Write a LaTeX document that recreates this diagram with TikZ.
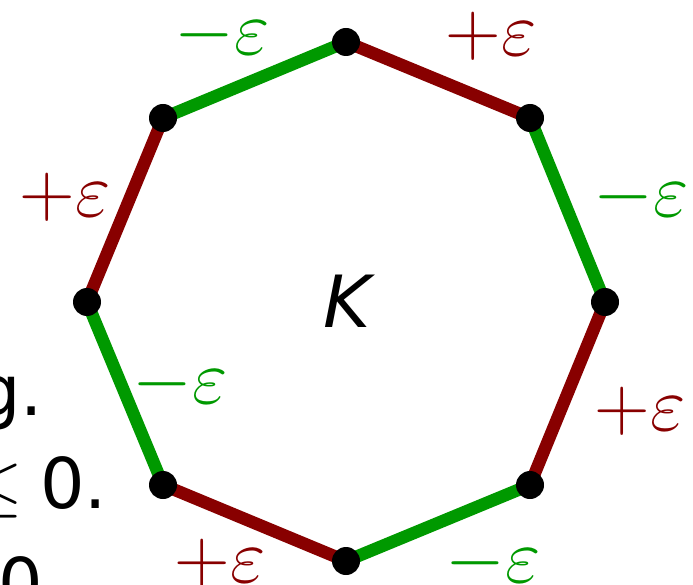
\documentclass[tikz,border=0pt]{standalone}
\usepackage{fix-cm}
\usepackage{fontspec}
\setmainfont{DejaVu Sans}
\definecolor{eg}{RGB}{0,153,0}
\definecolor{er}{RGB}{136,0,0}
\begin{document}
\begin{tikzpicture}[x=1pt,y=-1pt,
  edge/.style={line width=12.5pt},
  vtx/.style={circle,fill=black,inner sep=0pt,minimum size=28pt},
  lbl/.style={inner sep=0pt,font=\fontsize{77}{90}\selectfont},
  frag/.style={inner sep=0pt,anchor=base east,font=\fontsize{70}{84}\selectfont}]
\useasboundingbox (0,0) rectangle (693,585);
\clip (0,0) rectangle (693,585);
% cut-off text fragments at left
\node[frag] (f1) at (43,415) {g.};
\node[frag] (f2) at (107,508) {\(\leq\)\kern17pt0.};
\node[frag] (f3) at (43,608) {0};
% vertices
\coordinate (T) at (346,42);
\coordinate (TR) at (530,118);
\coordinate (R) at (605,302);
\coordinate (BR) at (530,485);
\coordinate (B) at (346,561);
\coordinate (BL) at (163,485);
\coordinate (L) at (87,302);
\coordinate (TL) at (163,118);
\draw[edge,er] (T) -- (TR);
\draw[edge,eg] (TR) -- (R);
\draw[edge,er] (R) -- (BR);
\draw[edge,eg] (BR) -- (B);
\draw[edge,er] (B) -- (BL);
\draw[edge,eg] (BL) -- (L);
\draw[edge,er] (L) -- (TL);
\draw[edge,eg] (TL) -- (T);
\foreach \v in {T,TR,R,BR,B,BL,L,TL} \node[vtx] (n\v) at (\v) {};
% labels
\node[lbl,text=eg] (l1) at (222,35) {$-\varepsilon$};
\node[lbl,text=er] (l2) at (491,36) {$+\varepsilon$};
\node[lbl,text=er] (l3) at (65,197) {$+\varepsilon$};
\node[lbl,text=eg] (l4) at (641,197) {$-\varepsilon$};
\node[lbl,text=eg] (l5) at (180,384) {$-\varepsilon$};
\node[lbl,text=er] (l6) at (640,411) {$+\varepsilon$};
\node[lbl,text=er] (l7) at (220,563) {$+\varepsilon$};
\node[lbl,text=eg] (l8) at (493,563) {$-\varepsilon$};
\node[lbl,font=\fontsize{72}{86}\selectfont] (K) at (347,301) {\itshape K};
\end{tikzpicture}
\end{document}
